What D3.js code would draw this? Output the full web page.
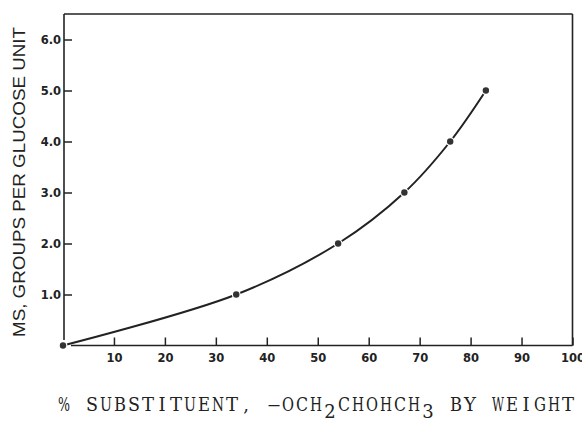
<!DOCTYPE html>
<html>
<head>
<meta charset="utf-8">
<script src="https://cdn.jsdelivr.net/npm/d3@7"></script>
<style>
  body { margin: 0; background: #fff; }
  svg { display: block; }
</style>
</head>
<body>
<svg id="chart"></svg>
<script>
// % substituent by weight vs MS
var substituent = [0, 34, 54, 67, 76, 83];
var msValues = [0, 1.0, 2.0, 3.0, 4.0, 5.0];
var xTicks = [10, 20, 30, 40, 50, 60, 70, 80, 90, 100];
var yTicks = [1, 2, 3, 4, 5, 6];
// x-axis title pieces: [text, is subscript]
var titleParts = [["% SUBSTITUENT, \u2014OCH", false], ["2", true], ["CHOHCH", false], ["3", true], [" BY WEIGHT", false]];

var data = substituent.map(function(d, i) { return { x: d, y: msValues[i] }; });

var svgWidth = 582, svgHeight = 421;
var ink = "#222";

var svg = d3.select("#chart")
    .attr("width", svgWidth)
    .attr("height", svgHeight);

var x = d3.scaleLinear().domain([0, 100]).range([63, 572.5]);
var y = d3.scaleLinear().domain([0, 6]).range([345.5, 39.5]);

// frame
var frame = svg.append("g")
    .attr("stroke", ink)
    .attr("stroke-width", 1.6)
    .attr("fill", "none");
frame.append("line").attr("x1", 64).attr("x2", 64).attr("y1", y(6.5)).attr("y2", 340);
frame.append("line").attr("x1", 64).attr("x2", x(100)).attr("y1", y(6.5)).attr("y2", y(6.5));
frame.append("line").attr("x1", x(100)).attr("x2", x(100)).attr("y1", y(6.5)).attr("y2", y(0));
frame.append("line").attr("x1", 71).attr("x2", x(100)).attr("y1", y(0)).attr("y2", y(0));

// axes, ticks pointing inside
var gx = svg.append("g")
    .attr("transform", "translate(0," + y(0) + ")")
    .call(d3.axisBottom(x).tickValues(xTicks).tickSize(-8).tickPadding(8)
        .tickFormat(d3.format("d")));
gx.select(".domain").remove();

var gy = svg.append("g")
    .attr("transform", "translate(64,0)")
    .call(d3.axisLeft(y).tickValues(yTicks).tickSize(-8).tickPadding(3)
        .tickFormat(d3.format(".1f")));
gy.select(".domain").remove();

svg.selectAll(".tick line")
    .attr("stroke", ink)
    .attr("stroke-width", 1.5);
svg.selectAll(".tick text")
    .attr("fill", ink)
    .style("font-family", "'DejaVu Sans', sans-serif")
    .style("font-weight", "bold")
    .style("font-size", "11.5px");

// curve
var line = d3.line()
    .x(function(d) { return x(d.x); })
    .y(function(d) { return y(d.y); })
    .curve(d3.curveCatmullRom.alpha(0.5));

svg.append("path")
    .datum(data)
    .attr("fill", "none")
    .attr("stroke", ink)
    .attr("stroke-width", 2)
    .attr("stroke-linecap", "round")
    .attr("d", line);

svg.selectAll(".pt")
    .data(data)
    .enter().append("circle")
    .attr("class", "pt")
    .attr("cx", function(d) { return x(d.x); })
    .attr("cy", function(d) { return y(d.y); })
    .attr("r", 3.2)
    .attr("fill", "#333")
    .attr("stroke", "#fff")
    .attr("stroke-width", 2.5)
    .attr("paint-order", "stroke");

// axis titles
svg.append("text")
    .attr("transform", "translate(25,182) rotate(-90)")
    .attr("text-anchor", "middle")
    .attr("textLength", 310)
    .attr("lengthAdjust", "spacingAndGlyphs")
    .attr("fill", ink)
    .style("font-family", "'Liberation Sans', Arial, sans-serif")
    .style("font-size", "16.5px")
    .text("MS, GROUPS PER GLUCOSE UNIT");

// typewriter look: every character sits centred in a fixed 14px cell
var cell = 14, startX = 57, baseY = 410.5;
var chars = [];
titleParts.forEach(function(p) {
    p[0].split("").forEach(function(c) { chars.push({ c: c, sub: p[1] }); });
});
var title = svg.append("text")
    .attr("fill", ink)
    .attr("text-anchor", "middle")
    .style("font-family", "'DejaVu Serif', 'Liberation Serif', serif")
    .style("font-size", "18px");
title.selectAll("tspan")
    .data(chars)
    .enter().append("tspan")
    .attr("x", function(d, i) { return startX + cell * i + cell / 2; })
    .attr("y", function(d) { return d.sub ? baseY + 7 : baseY; })
    .text(function(d) { return d.c; })
    .each(function() {
        // squeeze glyphs that are wider than their cell
        var w = this.getComputedTextLength();
        if (w > cell - 2) {
            d3.select(this).attr("textLength", cell - 2).attr("lengthAdjust", "spacingAndGlyphs");
        }
    });
</script>
</body>
</html>
